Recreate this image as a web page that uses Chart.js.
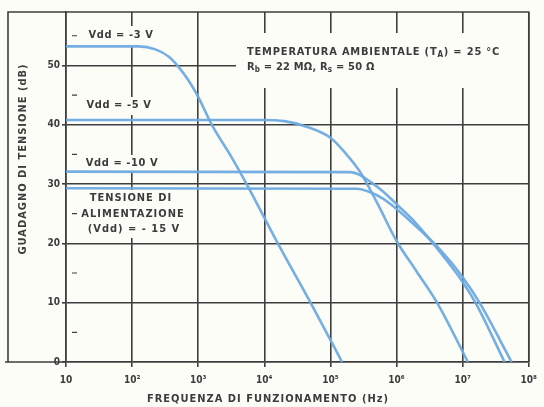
<!DOCTYPE html>
<html>
<head>
<meta charset="utf-8">
<script src="https://cdn.jsdelivr.net/npm/chart.js@4.4.0/dist/chart.umd.min.js"></script>
<style>
  html, body { margin: 0; padding: 0; background: #fdfdf8; }
  #wrap { width: 544px; height: 407px; }
</style>
</head>
<body>
<div id="wrap"><canvas id="myChart" width="544" height="407"></canvas></div>
<script>
// axis ticks
const decades = [10, 1e2, 1e3, 1e4, 1e5, 1e6, 1e7, 1e8];
const decadeLabels = ['10', '10²', '10³', '10⁴', '10⁵', '10⁶', '10⁷', '10⁸'];
const gainTicks = [0, 10, 20, 30, 40, 50];
const gainMinor = [5, 15, 25, 35, 45, 55];

// Vdd = -3 V
const freq3 = [10, 125, 225, 355, 500, 710, 1000, 1600, 3200, 5400, 16000, 50000, 150000];
const gain3 = [53.2, 53.2, 52.7, 51.5, 49.8, 47.5, 44.7, 40, 34.5, 30, 20, 10, 0];
// Vdd = -5 V
const freq5 = [10, 1e4, 2e4, 4e4, 1e5, 1.6e5, 2.75e5, 5e5, 1e6, 2e6, 4.1e6, 1.2e7];
const gain5 = [40.8, 40.8, 40.6, 39.8, 37.8, 35.5, 32.2, 27, 20.4, 15.3, 10, 0];
// Vdd = -10 V
const freq10 = [10, 2e5, 2.8e5, 4e5, 6.3e5, 1e6, 2e6, 4e6, 1e7, 1.6e7, 4.3e7];
const gain10 = [32.1, 32.0, 31.5, 30.4, 28.7, 26.6, 23.3, 19.3, 13.5, 9.8, 0];
// Vdd = -15 V
const freq15 = [10, 2.5e5, 4e5, 6.3e5, 1e6, 2e6, 4e6, 1e7, 1.8e7, 5.5e7];
const gain15 = [29.3, 29.2, 28.6, 27.5, 25.8, 22.8, 19.6, 14.3, 10, 0];

const BG = '#fdfdf8';
const INK = '#3c3c3c';
const GRID = 'rgb(62,62,62)';
const CURVE = 'rgba(110,170,225,0.95)';
const FONT = "'DejaVu Sans Condensed', 'Liberation Sans Narrow', 'DejaVu Sans', sans-serif";

function pts(xs, ys) {
    return xs.map((x, i) => ({x: x, y: ys[i]}));
}

function curve(xs, ys) {
    return {
        data: pts(xs, ys),
        borderColor: CURVE,
        borderWidth: 2.6,
        pointRadius: 0,
        fill: false,
        cubicInterpolationMode: 'monotone'
    };
}

// draws text pieces, some as subscripts, starting at x
function drawParts(ctx, x, y, parts, size) {
    for (const p of parts) {
        const sub = p[1];
        ctx.font = 'bold ' + (sub ? size - 3 : size) + 'px ' + FONT;
        ctx.fillText(p[0], x, sub ? y + 3 : y);
        x += ctx.measureText(p[0]).width;
    }
}

const notes = {
    id: 'notes',
    beforeDatasetsDraw(chart) {
        const ctx = chart.ctx;
        const a = chart.chartArea;
        ctx.save();
        // label gaps over the grid
        ctx.fillStyle = BG;
        ctx.fillRect(84, 26, 73, 20);
        ctx.fillRect(83, 97, 72, 18);
        ctx.fillRect(84, 155, 73, 16);
        ctx.fillRect(78, 190, 112, 48);
        ctx.fillRect(236, 33, a.right - 236, 55);

        // frame
        ctx.strokeStyle = GRID;
        ctx.lineWidth = 1.6;
        ctx.beginPath();
        ctx.moveTo(8, a.bottom);
        ctx.lineTo(8, a.top);
        ctx.lineTo(a.right, a.top);
        ctx.lineTo(a.right, a.bottom);
        ctx.moveTo(5, a.bottom);
        ctx.lineTo(a.left, a.bottom);
        ctx.stroke();

        // minor ticks on gain axis
        const y = chart.scales.y;
        ctx.lineWidth = 1.2;
        ctx.beginPath();
        for (const v of gainMinor) {
            const py = y.getPixelForValue(v);
            ctx.moveTo(a.left + 6, py);
            ctx.lineTo(a.left + 11, py);
        }
        ctx.stroke();

        ctx.fillStyle = INK;
        ctx.textBaseline = 'middle';
        ctx.textAlign = 'center';
        ctx.font = 'bold 11px ' + FONT;
        ctx.letterSpacing = '0.6px';
        ctx.fillText('Vdd = -3 V', 121, 35);
        ctx.fillText('Vdd = -5 V', 119, 105);
        ctx.fillText('Vdd = -10 V', 122, 163);
        ctx.letterSpacing = '1px';
        ctx.fillText('TENSIONE DI', 131, 198);
        ctx.fillText('ALIMENTAZIONE', 133, 214);
        ctx.fillText('(Vdd) = - 15 V', 134, 229);

        ctx.textAlign = 'left';
        ctx.letterSpacing = '0.8px';
        drawParts(ctx, 247, 52, [['TEMPERATURA AMBIENTALE (T'], ['A', true], [') = 25 °C']], 11);
        ctx.letterSpacing = '0.2px';
        drawParts(ctx, 247, 67, [['R'], ['b', true], [' = 22 MΩ, R'], ['s', true], [' = 50 Ω']], 11);

        // axis titles
        ctx.textAlign = 'center';
        ctx.font = 'bold 11px ' + FONT;
        ctx.letterSpacing = '1px';
        ctx.fillText('FREQUENZA DI FUNZIONAMENTO (Hz)', 268, 399);
        ctx.translate(23, 159);
        ctx.rotate(-Math.PI / 2);
        ctx.fillText('GUADAGNO DI TENSIONE (dB)', 0, 0);
        ctx.restore();
    }
};

const ctx = document.getElementById('myChart');
new Chart(ctx, {
    type: 'line',
    data: {
        datasets: [
            curve(freq3, gain3),
            curve(freq5, gain5),
            curve(freq10, gain10),
            curve(freq15, gain15)
        ]
    },
    options: {
        responsive: false,
        animation: false,
        devicePixelRatio: 1,
        layout: {padding: {left: 0, right: 15, top: 12, bottom: 0}},
        plugins: {legend: {display: false}, tooltip: {enabled: false}},
        scales: {
            x: {
                type: 'logarithmic',
                min: 10,
                max: 1e8,
                afterBuildTicks: s => { s.ticks = decades.map(v => ({value: v})); },
                afterFit: s => { s.height = 45; },
                grid: {color: GRID, lineWidth: 1.6, tickLength: 5},
                border: {color: GRID, width: 1.6},
                ticks: {
                    autoSkip: false,
                    maxRotation: 0,
                    padding: 7,
                    color: INK,
                    font: {family: FONT, size: 10, weight: 'bold'},
                    callback: v => decadeLabels[decades.indexOf(v)]
                }
            },
            y: {
                type: 'linear',
                min: 0,
                max: 59,
                afterBuildTicks: s => { s.ticks = gainTicks.map(v => ({value: v})); },
                afterFit: s => { s.width = 66; },
                grid: {color: GRID, lineWidth: 1.6, tickLength: 4},
                border: {color: GRID, width: 1.6},
                ticks: {
                    padding: 2,
                    color: INK,
                    font: {family: FONT, size: 10, weight: 'bold'}
                }
            }
        }
    },
    plugins: [notes]
});
</script>
</body>
</html>
